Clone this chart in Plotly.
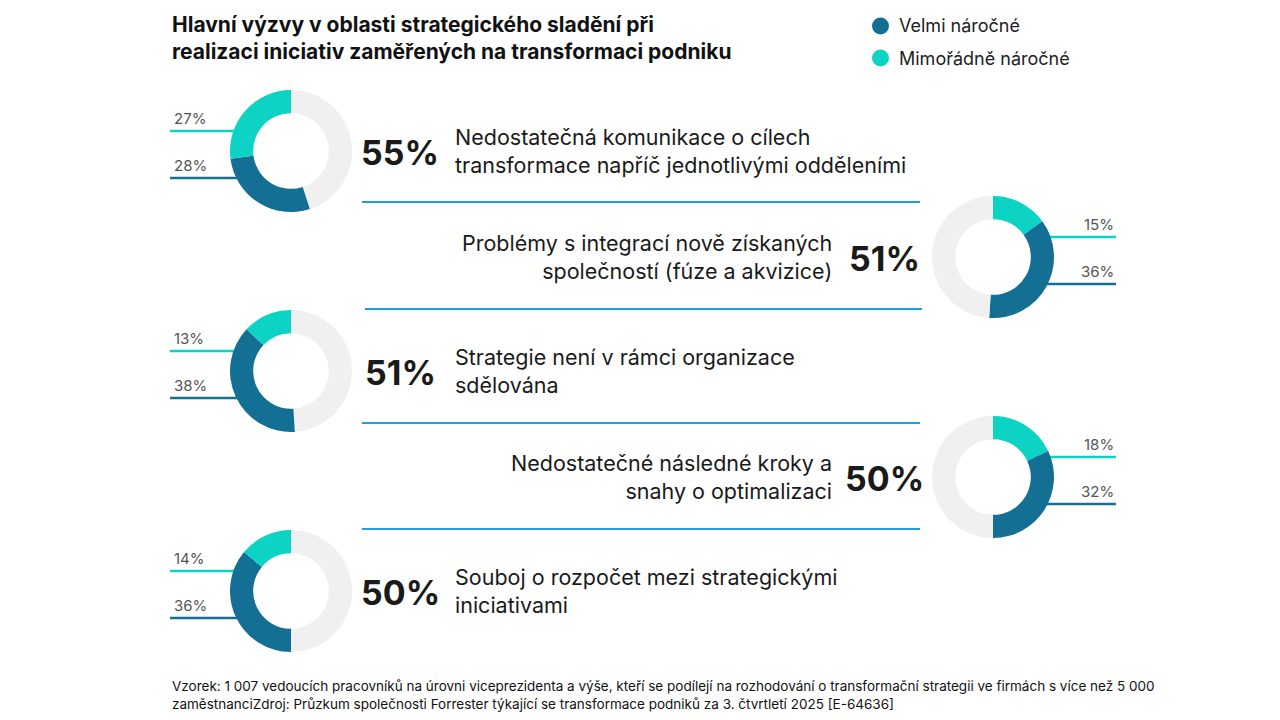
import plotly.graph_objects as go

# page body has an 8px margin, so the figure is drawn 16px smaller and offset
FW, FH, OFF = 1264, 704, 8
velmi = [28, 36, 38, 32, 36]
mimoradne = [27, 15, 13, 18, 14]
totals = ["55%", "51%", "51%", "50%", "50%"]
popisy = [
    "Nedostatečná komunikace o cílech<br>transformace napříč jednotlivými odděleními",
    "Problémy s integrací nově získaných<br>společností (fúze a akvizice)",
    "Strategie není v rámci organizace<br>sdělována",
    "Nedostatečné následné kroky a<br>snahy o optimalizaci",
    "Souboj o rozpočet mezi strategickými<br>iniciativami",
]

DARK, CYAN, GREY, LINE = "#136f94", "#0dd3c5", "#f0f0f0", "#1ca0dc"
FONT = "Inter"

def px(x): return (x - OFF) / FW
def py(y): return 1 - (y - OFF) / FH

fig = go.Figure()
shapes, ann = [], []
centers = [(291, 151, "L"), (993, 257, "R"), (291, 371, "L"), (993, 477, "R"), (291, 591, "L")]
R = 61
for i, (cx, cy, side) in enumerate(centers):
    v, m = velmi[i], mimoradne[i]
    if side == "L":
        labels, vals, cols = ["g", "d", "c"], [100 - m - v, v, m], [GREY, DARK, CYAN]
    else:
        labels, vals, cols = ["c", "d", "g"], [m, v, 100 - m - v], [CYAN, DARK, GREY]
    fig.add_trace(go.Pie(
        labels=labels, values=vals, sort=False, hole=0.62, direction="clockwise", rotation=0,
        marker=dict(colors=cols), textinfo="none", hoverinfo="skip", showlegend=False,
        domain=dict(x=[px(cx - R), px(cx + R)], y=[py(cy + R), py(cy - R)])))
    if side == "L":
        lx0, lx1, tx, anchor = 170, 255, 172, "left"
        ann.append(dict(x=px(400), y=py(cy + 1), text=f"<b>{totals[i]}</b>", showarrow=False,
                        xanchor="center", yanchor="middle", font=dict(size=34, color="#1a1a1a", family=FONT)))
        ann.append(dict(x=px(453), y=py(cy), text=popisy[i], showarrow=False, xanchor="left",
                        yanchor="middle", align="left", font=dict(size=21.5, color="#1a1a1a", family=FONT)))
    else:
        lx0, lx1, tx, anchor = 1035, 1116, 1116, "right"
        ann.append(dict(x=px(884), y=py(cy + 1), text=f"<b>{totals[i]}</b>", showarrow=False,
                        xanchor="center", yanchor="middle", font=dict(size=34, color="#1a1a1a", family=FONT)))
        ann.append(dict(x=px(834), y=py(cy), text=popisy[i], showarrow=False, xanchor="right",
                        yanchor="middle", align="right", font=dict(size=21.5, color="#1a1a1a", family=FONT)))
    y_top, y_bot = cy - 20, cy + 27
    for yy, col, txt in [(y_top, CYAN, f"{m}%"), (y_bot, DARK, f"{v}%")]:
        shapes.append(dict(type="line", xref="paper", yref="paper", x0=px(lx0), x1=px(lx1),
                           y0=py(yy), y1=py(yy), line=dict(color=col, width=2.5), layer="below"))
        ann.append(dict(x=px(tx), y=py(yy - 1), text=txt, showarrow=False, xanchor=anchor,
                        yanchor="bottom", font=dict(size=15, color="#555", family=FONT)))

for y, x0, x1 in [(202, 362, 920), (309, 365, 922), (423, 362, 920), (529, 362, 920)]:
    shapes.append(dict(type="line", xref="paper", yref="paper", x0=px(x0), x1=px(x1),
                       y0=py(y), y1=py(y), line=dict(color=LINE, width=2)))

ann.append(dict(x=px(170), y=py(38), text="<b>Hlavní výzvy v oblasti strategického sladění při<br>realizaci iniciativ zaměřených na transformaci podniku</b>",
                showarrow=False, xanchor="left", yanchor="middle", align="left",
                font=dict(size=21, color="#111", family=FONT)))
for y, col, txt in [(26, DARK, "Velmi náročné"), (58, CYAN, "Mimořádně náročné")]:
    shapes.append(dict(type="circle", xref="paper", yref="paper", x0=px(872), x1=px(889),
                       y0=py(y + 8.5), y1=py(y - 8.5), fillcolor=col, line=dict(width=0)))
    ann.append(dict(x=px(897), y=py(y), text=txt, showarrow=False, xanchor="left", yanchor="middle",
                    font=dict(size=18, color="#222", family=FONT)))
ann.append(dict(x=px(170), y=py(695), text="Vzorek: 1 007 vedoucích pracovníků na úrovni viceprezidenta a výše, kteří se podílejí na rozhodování o transformační strategii ve firmách s více než 5 000<br>zaměstnanciZdroj: Průzkum společnosti Forrester týkající se transformace podniků za 3. čtvrtletí 2025 [E-64636]",
                showarrow=False, xanchor="left", yanchor="middle", align="left",
                font=dict(size=13.5, color="#111", family=FONT)))

fig.update_layout(width=FW, height=FH, margin=dict(l=0, r=0, t=0, b=0), paper_bgcolor="white",
                  shapes=shapes, annotations=ann)
fig.write_html("out.html")
